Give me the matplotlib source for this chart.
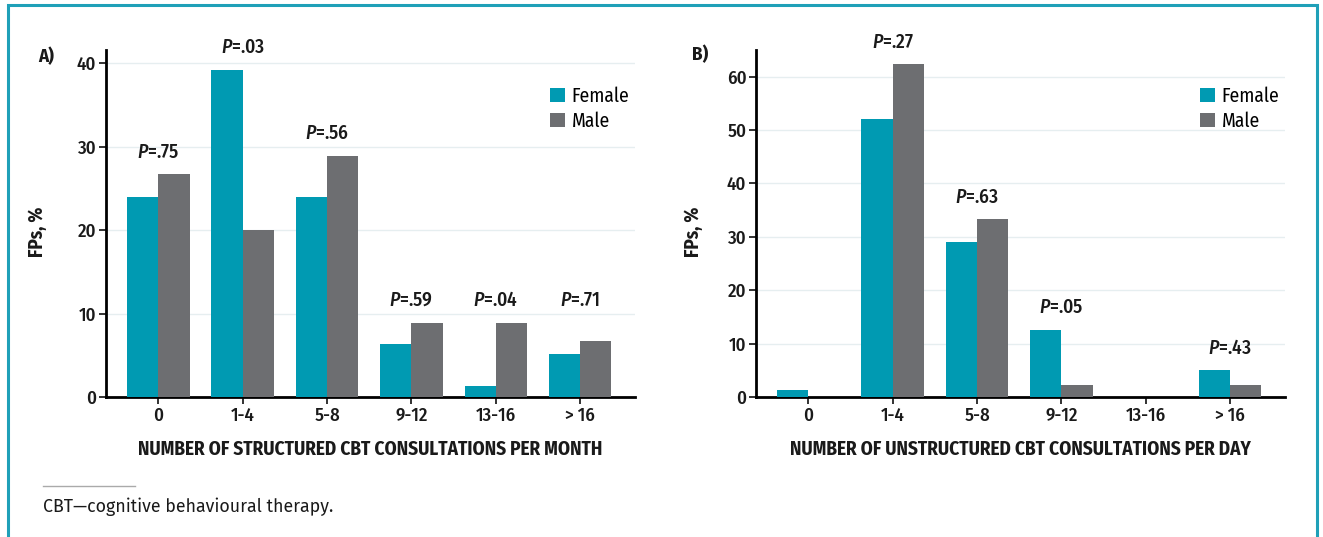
import matplotlib
matplotlib.use("Agg")
import matplotlib.pyplot as plt
import numpy as np
from matplotlib.patches import Rectangle
from matplotlib.lines import Line2D

categories = ["0", "1-4", "5-8", "9-12", "13-16", "> 16"]

female_a = [24.0, 39.2, 24.0, 6.3, 1.3, 5.1]
male_a = [26.7, 20.0, 28.9, 8.9, 8.9, 6.7]
pvals_a = [".75", ".03", ".56", ".59", ".04", ".71"]

female_b = [1.3, 52.0, 29.1, 12.6, 0.0, 5.0]
male_b = [0.0, 62.3, 33.3, 2.2, 0.0, 2.2]
pvals_b = ["", ".27", ".63", ".05", "", ".43"]

TEAL = "#009AB2"
GRAY = "#6D6E71"
INK = "#1a1a1a"
FONT = ["Fira Sans Condensed", "DejaVu Sans"]

plt.rcParams["font.family"] = FONT
plt.rcParams["font.weight"] = 500
plt.rcParams["mathtext.fontset"] = "custom"
plt.rcParams["mathtext.it"] = "Fira Sans Condensed:italic:medium"
plt.rcParams["mathtext.rm"] = "Fira Sans Condensed:medium"

fig = plt.figure(figsize=(13.23, 5.37), dpi=100)

# outer frame
fig.add_artist(Rectangle((8/1323, -0.02), (1317-8)/1323, (537-5)/537 + 0.02,
                         transform=fig.transFigure, fill=False,
                         edgecolor="#1FA0B8", linewidth=2.2))


def panel(rect, female, male, pvals, ylim, yticks, xlabel, letter, letter_xy,
          anchors, ylab_x):
    ax = fig.add_axes(rect)
    x = np.arange(len(categories))
    w = 0.37
    ax.bar(x - w/2, female, w, color=TEAL, label="Female", zorder=3)
    ax.bar(x + w/2, male, w, color=GRAY, label="Male", zorder=3)
    ax.set_xlim(-0.62, len(categories) - 1 + 0.65)
    ax.set_ylim(0, ylim)
    ax.set_yticks(yticks)
    ax.yaxis.grid(True, color="#E6EEF0", linewidth=1.0, zorder=0)
    ax.set_axisbelow(True)
    for s in ["top", "right"]:
        ax.spines[s].set_visible(False)
    ax.spines["left"].set_linewidth(2.0)
    ax.spines["bottom"].set_linewidth(2.0)
    ax.set_xticks(x)
    ax.set_xticklabels(categories)
    ax.tick_params(axis="both", labelsize=13.5, width=1.3, length=5, pad=2,
                   color="#222222", labelcolor=INK)
    ax.set_xlabel(xlabel, fontsize=13.8, fontweight="bold", labelpad=11,
                  color=INK)
    ax.set_ylabel("FPs, %", fontsize=13.8, fontweight="bold", color=INK)
    ax.yaxis.set_label_coords(ylab_x, 0.4755)
    for xi, p, a in zip(x, pvals, anchors):
        if p:
            ax.annotate(r"$\mathit{P}$=" + p, (xi, a), xytext=(0, 9),
                        textcoords="offset points", ha="center", va="bottom",
                        fontsize=14, color=INK)
    fig.text(letter_xy[0] / 1323, 1 - letter_xy[1] / 537, letter, fontsize=13.5,
             fontweight="bold", ha="left", va="top", color=INK)
    ax.legend(loc="upper right", bbox_to_anchor=(1.011, 0.929), frameon=False,
              prop={"size": 14, "weight": "normal"}, handlelength=0.75,
              handleheight=0.75, handletextpad=0.35, labelspacing=0.3,
              borderaxespad=0.2)
    return ax


anch_a = [max(f, m) for f, m in zip(female_a, male_a)]
anch_a[3:] = [max(male_a[3:])] * 3
anch_b = [max(f, m) for f, m in zip(female_b, male_b)]

panel([106/1323, 1 - 397/537, (635-106)/1323, (397-50)/537],
      female_a, male_a, pvals_a, 41.6, [0, 10, 20, 30, 40],
      "NUMBER OF STRUCTURED CBT CONSULTATIONS PER MONTH", "A)", (38, 47),
      anch_a, -0.1115)
panel([756/1323, 1 - 397/537, (1285-756)/1323, (397-50)/537],
      female_b, male_b, pvals_b, 65, [0, 10, 20, 30, 40, 50, 60],
      "NUMBER OF UNSTRUCTURED CBT CONSULTATIONS PER DAY", "B)", (692, 45),
      anch_b, -0.100)

fig.add_artist(Line2D([43/1323, 135/1323], [1 - 486/537] * 2,
                      transform=fig.transFigure, color="#AAAAAA", linewidth=1))
fig.text(43/1323, 1 - 507/537, "CBT\u2014cognitive behavioural therapy.",
         fontsize=12.8, ha="left", va="center", family="Fira Sans",
         fontweight="normal", color=INK)

fig.savefig("out.png", dpi=100)
